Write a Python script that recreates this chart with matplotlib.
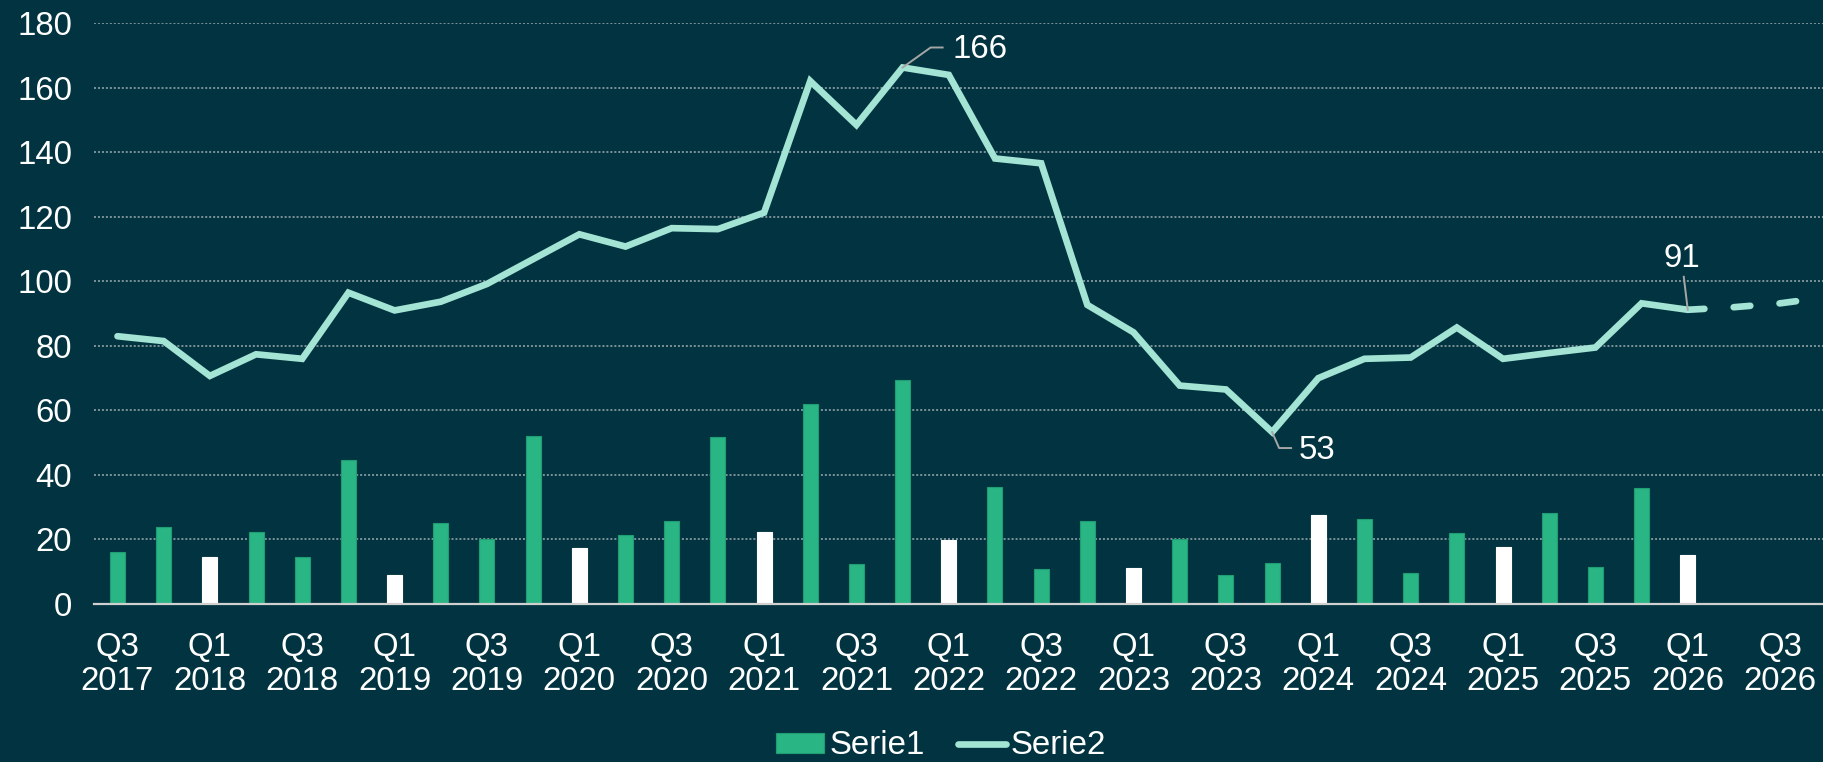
import matplotlib
matplotlib.use("Agg")
import matplotlib.pyplot as plt
from matplotlib.lines import Line2D
from matplotlib.transforms import IdentityTransform

# ---------------- data ----------------
quarters = ["Q3\n2017", "Q4\n2017", "Q1\n2018", "Q2\n2018", "Q3\n2018", "Q4\n2018",
            "Q1\n2019", "Q2\n2019", "Q3\n2019", "Q4\n2019", "Q1\n2020", "Q2\n2020",
            "Q3\n2020", "Q4\n2020", "Q1\n2021", "Q2\n2021", "Q3\n2021", "Q4\n2021",
            "Q1\n2022", "Q2\n2022", "Q3\n2022", "Q4\n2022", "Q1\n2023", "Q2\n2023",
            "Q3\n2023", "Q4\n2023", "Q1\n2024", "Q2\n2024", "Q3\n2024", "Q4\n2024",
            "Q1\n2025", "Q2\n2025", "Q3\n2025", "Q4\n2025", "Q1\n2026", "Q2\n2026",
            "Q3\n2026", "Q4\n2026"]

serie1 = [16.2, 24.0, 14.6, 22.3, 14.7, 44.7, 9.0, 25.1, 20.0, 52.1, 17.4, 21.3,
          25.6, 51.8, 22.3, 61.9, 12.4, 69.5, 19.9, 36.2, 10.8, 25.6, 11.2, 20.1,
          9.0, 12.7, 27.6, 26.2, 9.6, 22.1, 17.7, 28.1, 11.5, 35.9, 15.2]

serie2 = [83.0, 81.5, 70.7, 77.4, 76.0, 96.5, 91.0, 93.7, 99.2, 106.9, 114.6, 110.8,
          116.5, 116.2, 121.3, 162.1, 148.5, 166.3, 164.0, 138.1, 136.6, 92.7, 84.2, 67.7,
          66.5, 53.3, 70.0, 76.0, 76.4, 85.7, 76.0, 77.8, 79.5, 93.2, 91.2]

# forecast part of Serie2 (dashed), starting at the last actual point
serie2_forecast = [91.2, 92.0, 93.2, 95.1]

yticks = [0, 20, 40, 60, 80, 100, 120, 140, 160, 180]

# ---------------- style ----------------
BG = "#013440"
GREEN = "#2AB584"
GREEN_EDGE = "#1F9E73"
WHITE = "#FFFFFF"
LINE = "#A3E4D5"
GRID = "#8599A0"
LEADER = "#A6A6A6"
FONT = "Liberation Sans"
FS = 23.8
LW = 4.8

plt.rcParams["font.family"] = [FONT, "DejaVu Sans"]

fig = plt.figure(figsize=(18.24, 7.62), dpi=100, facecolor=BG)
ax = fig.add_axes([94.4 / 1824, 158 / 762, 1 - 94.4 / 1824, (604 - 23.3) / 762])
ax.set_facecolor(BG)

x_bar = list(range(len(serie1)))
bar_colors = [WHITE if quarters[i].startswith("Q1") else GREEN for i in x_bar]
bar_edges = [WHITE if quarters[i].startswith("Q1") else GREEN_EDGE for i in x_bar]
bars = ax.bar(x_bar, serie1, width=0.325, color=bar_colors, edgecolor=bar_edges,
              linewidth=0.8, zorder=2)

x_line = list(range(len(serie2)))
(line_solid,) = ax.plot(x_line, serie2, color=LINE, lw=LW, zorder=4,
                        solid_capstyle="round", solid_joinstyle="miter")
x_fc = list(range(len(serie2) - 1, len(serie2) - 1 + len(serie2_forecast)))
ax.plot(x_fc, serie2_forecast, color=LINE, lw=LW, zorder=4,
        linestyle=(0, (2.5, 4.4)), dash_capstyle="round")

ax.set_xlim(-0.5, 36.95)
ax.set_ylim(0, 180)
ax.set_yticks(yticks)
ax.set_yticklabels([str(v) for v in yticks])
ax.set_xticks(list(range(0, len(quarters), 2)))
ax.set_xticklabels(quarters[::2])

ax.tick_params(axis="both", length=0, colors=WHITE, labelsize=FS)
ax.tick_params(axis="y", pad=16)
ax.tick_params(axis="x", pad=20)
for lab in ax.get_xticklabels():
    lab.set_linespacing(1.12)

for s in ["left", "right", "top"]:
    ax.spines[s].set_visible(False)
ax.spines["bottom"].set_color("#D0D0D0")
ax.spines["bottom"].set_linewidth(1.6)
ax.spines["bottom"].set_zorder(3)

ax.yaxis.grid(True, color=GRID, lw=1.3, linestyle=(0, (1.1, 1.1)))
ax.set_axisbelow(True)

# ---------------- annotations with leader lines ----------------
def leader(xi, yv, offsets, text, text_off, ha, va):
    px, py = ax.transData.transform((xi, yv))
    xs = [px] + [px + dx for dx, dy in offsets]
    ys = [py] + [py + dy for dx, dy in offsets]
    ln = Line2D(xs, ys, color=LEADER, lw=1.4, transform=IdentityTransform(), zorder=5)
    ax.add_artist(ln)
    ax.annotate(text, xy=(xi, yv), xytext=text_off, textcoords="offset pixels",
                ha=ha, va=va, color=WHITE, fontsize=FS, zorder=6)

i_max = serie2.index(max(serie2))
i_min = serie2.index(min(serie2))
i_last = len(serie2) - 1
leader(i_max, serie2[i_max], [(28, 20), (40, 20)], "%d" % round(serie2[i_max]), (50, 18), "left", "center")
leader(i_min, serie2[i_min], [(7, -16), (19, -16)], "%d" % round(serie2[i_min]), (27, -18), "left", "center")
leader(i_last, serie2[i_last], [(-4, 33)], "%d" % round(serie2[i_last]), (-6, 36), "center", "bottom")

# ---------------- legend ----------------
handles = [bars.patches[0], Line2D([], [], color=LINE, lw=LW, solid_capstyle="round")]
leg = fig.legend(handles, ["Serie1", "Serie2"], loc="center", bbox_to_anchor=(0.516, 0.021),
                 bbox_transform=fig.transFigure, ncol=2, frameon=False, fontsize=FS,
                 handlelength=1.45, handleheight=0.55, handletextpad=0.15,
                 columnspacing=1.0, borderpad=0.1)
for t in leg.get_texts():
    t.set_color(WHITE)

fig.savefig("out.png", dpi=100, facecolor=BG)
